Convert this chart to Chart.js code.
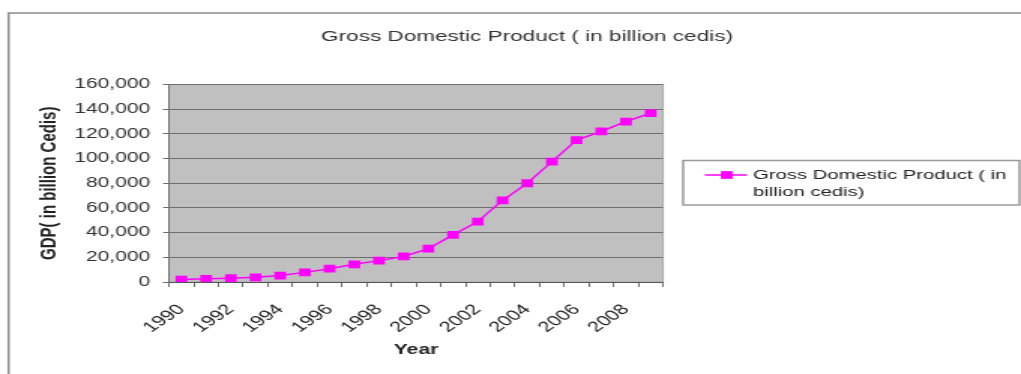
<!DOCTYPE html>
<html>
<head>
<meta charset="utf-8">
<title>Gross Domestic Product</title>
<script src="https://cdn.jsdelivr.net/npm/chart.js@4/dist/chart.umd.min.js"></script>
<style>
  body { margin: 0; background: #fff; }
</style>
</head>
<body>
<!-- the picture is stretched sideways, so the canvas is drawn narrow and widened by its inline style -->
<canvas id="gdpChart" width="680" height="374" style="display:block;width:1021px;height:374px"></canvas>
<script>
const years = ["1990", "1991", "1992", "1993", "1994", "1995", "1996", "1997", "1998", "1999",
  "2000", "2001", "2002", "2003", "2004", "2005", "2006", "2007", "2008", "2009"];
const gdp = [2000, 2600, 3100, 3800, 5200, 7800, 10800, 14300, 17300, 20700,
  27000, 38200, 49000, 66100, 80000, 97500, 115000, 122000, 130000, 136800];
const seriesLabel = "Gross Domestic Product ( in billion cedis)";
const legendLines = ["Gross Domestic Product ( in", "billion cedis)"];
const yMax = 160000;
const yStep = 20000;

const fontFamily = "'Liberation Sans', Arial, sans-serif";
const magenta = "#ff00ff";

// grey plot area, outer frame and the boxed legend
const excelLook = {
  id: "excelLook",
  beforeDraw: (chart) => {
    const { ctx, chartArea: a } = chart;
    ctx.save();
    ctx.fillStyle = "#fff";
    ctx.fillRect(0, 0, chart.width, chart.height);
    ctx.strokeStyle = "#8c8c8c";
    ctx.lineWidth = 1.5;
    ctx.strokeRect(5.7, 13, chart.width + 20, chart.height + 20);
    ctx.fillStyle = "#c0c0c0";
    ctx.fillRect(a.left, a.top, a.right - a.left, a.bottom - a.top);
    ctx.strokeStyle = "#a8a8a8";
    ctx.lineWidth = 1;
    ctx.strokeRect(a.left, a.top, a.right - a.left, a.bottom - a.top);
    ctx.restore();
  },
  afterDraw: (chart) => {
    const { ctx } = chart;
    const ds = chart.data.datasets[0];
    ctx.save();
    ctx.fillStyle = "#fff";
    ctx.fillRect(455, 160.5, 224, 44.5);
    ctx.strokeStyle = "#9a9a9a";
    ctx.lineWidth = 1.5;
    ctx.strokeRect(455, 160.5, 224, 44.5);
    ctx.strokeStyle = ds.borderColor;
    ctx.lineWidth = ds.borderWidth;
    ctx.beginPath();
    ctx.moveTo(469.5, 175);
    ctx.lineTo(497.5, 175);
    ctx.stroke();
    ctx.fillStyle = ds.pointBackgroundColor;
    Chart.helpers.drawPoint(ctx, { pointStyle: "rect", radius: ds.pointRadius, borderWidth: 0 }, 484, 175);
    ctx.fillStyle = "#222";
    ctx.font = "13.5px " + fontFamily;
    ctx.textBaseline = "middle";
    ctx.textAlign = "left";
    legendLines.forEach((line, i) => {
      ctx.fillText(line, 501.5, 175 + i * 17);
    });
    ctx.restore();
  },
};

const ctx = document.getElementById("gdpChart");
const myChart = new Chart(ctx, {
  type: "line",
  data: {
    labels: years,
    datasets: [
      {
        label: seriesLabel,
        data: gdp,
        borderColor: magenta,
        backgroundColor: magenta,
        borderWidth: 1.5,
        pointStyle: "rect",
        pointRadius: 5.5,
        pointBackgroundColor: magenta,
        pointBorderColor: magenta,
        pointBorderWidth: 0,
        tension: 0,
      },
    ],
  },
  options: {
    responsive: false,
    animation: false,
    layout: { padding: { left: 22, right: 0, top: 0, bottom: 0 } },
    plugins: {
      legend: { display: false },
      tooltip: { enabled: false },
      title: {
        display: true,
        text: seriesLabel,
        color: "#333",
        font: { family: fontFamily, size: 15, weight: "normal" },
        padding: { top: 28, bottom: 38.5 },
      },
    },
    scales: {
      x: {
        offset: true,
        grid: { offset: true, drawOnChartArea: false, tickLength: 5, color: "#6e6e6e" },
        border: { color: "#555" },
        ticks: {
          autoSkip: false,
          minRotation: 45,
          maxRotation: 45,
          padding: 14,
          color: "#222",
          font: { family: fontFamily, size: 14.5 },
          callback: (val, i) => (i % 2 === 0 ? years[i] : ""),
        },
        title: {
          display: true,
          text: "Year",
          color: "#222",
          font: { family: fontFamily, size: 14, weight: "bold" },
          padding: { top: 0, bottom: 15 },
        },
        afterFit: (scale) => {
          scale.height = 92;
        },
      },
      y: {
        min: 0,
        max: yMax,
        grid: { color: "#6e6e6e", tickLength: 4 },
        border: { color: "#6e6e6e" },
        ticks: {
          stepSize: yStep,
          padding: 8.6,
          color: "#333",
          font: { family: fontFamily, size: 14 },
          callback: (v) => v.toLocaleString("en-US"),
        },
        title: {
          display: true,
          text: "GDP( in billion Cedis)",
          color: "#222",
          font: { family: fontFamily, size: 15, weight: "bold" },
          padding: { top: 2, bottom: 0 },
        },
        afterFit: (scale) => {
          scale.width = 90.6;
        },
      },
      // empty axis that only keeps room on the right for the legend box
      spacer: {
        position: "right",
        display: true,
        grid: { display: false },
        border: { display: false },
        ticks: { display: false },
        afterFit: (scale) => {
          scale.width = 238.4;
        },
      },
    },
  },
  plugins: [excelLook],
});
</script>
</body>
</html>
